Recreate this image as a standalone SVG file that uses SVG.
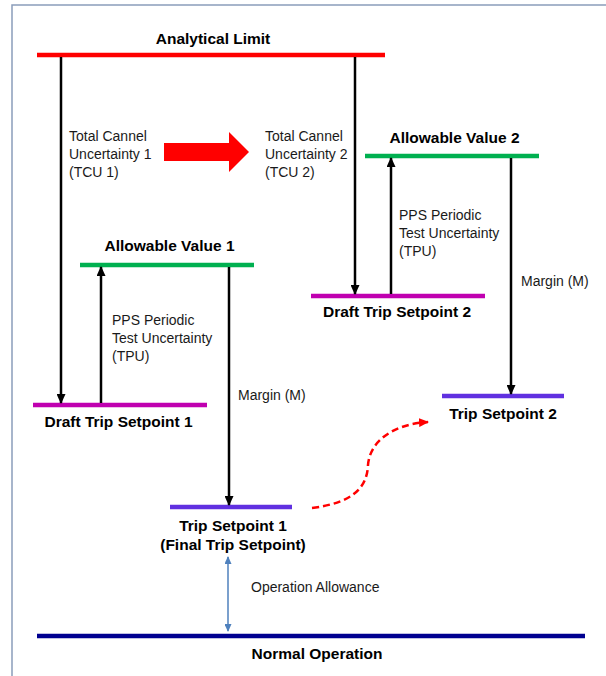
<svg xmlns="http://www.w3.org/2000/svg" width="606" height="676" viewBox="0 0 606 676">
<style>
.lbl{font-family:"Liberation Sans",Arial,sans-serif;font-size:15.5px;font-weight:bold;fill:#000;text-anchor:middle}
.txt{font-family:"Liberation Sans",Arial,sans-serif;font-size:14px;fill:#1a1a1a}
.bar{stroke-width:4.5;fill:none}
.arr{stroke:#000;stroke-width:2.5;fill:none}
</style>
<defs>
<marker id="ah" markerUnits="userSpaceOnUse" markerWidth="10" markerHeight="9" refX="9" refY="4.5" orient="auto"><path d="M0,0 L10,4.5 L0,9 z" fill="#000"/></marker>
<marker id="bh" markerUnits="userSpaceOnUse" markerWidth="8" markerHeight="7" refX="7" refY="3.5" orient="auto-start-reverse"><path d="M0,0 L8,3.5 L0,7 z" fill="#4f81bd"/></marker>
<marker id="rh" markerUnits="userSpaceOnUse" markerWidth="10" markerHeight="9" refX="9" refY="4.5" orient="auto"><path d="M0,0 L10,4.5 L0,9 z" fill="#ff0000"/></marker>
</defs>
<rect x="12" y="5" width="610" height="690" fill="#fff" stroke="#8a9dbb" stroke-width="1.5"/>
<g id="analytical-limit"><line class="bar" x1="37" y1="55" x2="385" y2="55" stroke="#ff0000"/><text class="lbl" x="213" y="43.5">Analytical Limit</text></g>
<g id="allowable-value-2"><line class="bar" x1="365" y1="156" x2="539" y2="156" stroke="#00b050"/><text class="lbl" x="454.5" y="142.5">Allowable Value 2</text></g>
<g id="allowable-value-1"><line class="bar" x1="80" y1="265" x2="254" y2="265" stroke="#00b050"/><text class="lbl" x="169.5" y="250.5">Allowable Value 1</text></g>
<g id="draft-trip-setpoint-2"><line class="bar" x1="311" y1="296" x2="485" y2="296" stroke="#c000b0"/><text class="lbl" x="397" y="316.5">Draft Trip Setpoint 2</text></g>
<g id="draft-trip-setpoint-1"><line class="bar" x1="33" y1="405" x2="207" y2="405" stroke="#c000b0"/><text class="lbl" x="118.5" y="426.5">Draft Trip Setpoint 1</text></g>
<g id="trip-setpoint-2"><line class="bar" x1="442" y1="396" x2="564" y2="396" stroke="#6030e0"/><text class="lbl" x="503" y="418.5">Trip Setpoint 2</text></g>
<g id="trip-setpoint-1"><line class="bar" x1="170" y1="507" x2="292" y2="507" stroke="#6030e0"/><text class="lbl" x="233" y="530.5">Trip Setpoint 1</text><text class="lbl" x="233" y="549.5">(Final Trip Setpoint)</text></g>
<g id="normal-operation"><line class="bar" x1="37" y1="636" x2="585" y2="636" stroke="#000090"/><text class="lbl" x="317" y="658.5">Normal Operation</text></g>
<g id="connectors">
<line class="arr" x1="61" y1="57" x2="61" y2="403" marker-end="url(#ah)"/>
<line class="arr" x1="355" y1="57" x2="355" y2="294" marker-end="url(#ah)"/>
<line class="arr" x1="391" y1="294" x2="391" y2="158" marker-end="url(#ah)"/>
<line class="arr" x1="511" y1="158" x2="511" y2="394" marker-end="url(#ah)"/>
<line class="arr" x1="101" y1="403" x2="101" y2="267" marker-end="url(#ah)"/>
<line class="arr" x1="229" y1="267" x2="229" y2="505" marker-end="url(#ah)"/>
<line x1="228" y1="557" x2="228" y2="631" stroke="#4f81bd" stroke-width="1.5" marker-start="url(#bh)" marker-end="url(#bh)"/>
<path d="M312,508 C350,503 367,490 368,465 C370,440 395,424 428,422" fill="none" stroke="#ff0000" stroke-width="2.5" stroke-dasharray="7,4" marker-end="url(#rh)"/>
<polygon points="164,143 229,143 229,132 249,152 229,172 229,161 164,161" fill="#ff0000"/>
<text class="txt"><tspan x="69" y="141">Total Cannel</tspan><tspan x="69" y="159">Uncertainty 1</tspan><tspan x="69" y="177">(TCU 1)</tspan></text>
<text class="txt"><tspan x="265" y="141">Total Cannel</tspan><tspan x="265" y="159">Uncertainty 2</tspan><tspan x="265" y="177">(TCU 2)</tspan></text>
<text class="txt"><tspan x="399" y="220">PPS Periodic</tspan><tspan x="399" y="238">Test Uncertainty</tspan><tspan x="399" y="256">(TPU)</tspan></text>
<text class="txt"><tspan x="112" y="325">PPS Periodic</tspan><tspan x="112" y="343">Test Uncertainty</tspan><tspan x="112" y="361">(TPU)</tspan></text>
<text class="txt" x="238" y="400">Margin (M)</text>
<text class="txt" x="521" y="286">Margin (M)</text>
<text class="txt" x="251" y="592">Operation Allowance</text>
</g>
</svg>
